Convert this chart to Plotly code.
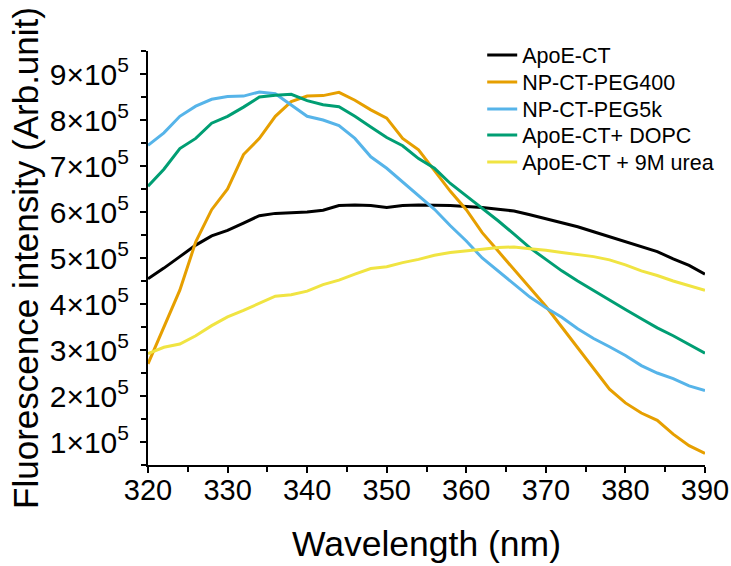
import plotly.graph_objects as go

# wavelength grid (nm)
wavelength = list(range(320, 391, 2))

# fluorescence intensity, in units of 1e5
apoe_ct = [4.55, 4.78, 5.03, 5.28, 5.48, 5.60, 5.76, 5.92, 5.97, 5.98, 6.00, 6.04,
           6.14, 6.15, 6.14, 6.10, 6.14, 6.15, 6.15, 6.14, 6.12, 6.10, 6.06, 6.02,
           5.94, 5.85, 5.77, 5.68, 5.57, 5.46, 5.36, 5.25, 5.14, 4.98, 4.84, 4.65]
np_peg400 = [2.70, 3.48, 4.30, 5.35, 6.05, 6.50, 7.25, 7.60, 8.08, 8.40, 8.52, 8.53,
             8.60, 8.43, 8.22, 8.04, 7.60, 7.35, 6.90, 6.45, 6.05, 5.55, 5.15, 4.75,
             4.35, 3.95, 3.50, 3.05, 2.62, 2.15, 1.85, 1.63, 1.47, 1.17, 0.92, 0.75]
np_peg5k = [7.45, 7.72, 8.08, 8.30, 8.45, 8.51, 8.52, 8.61, 8.57, 8.32, 8.08, 8.00,
            7.88, 7.60, 7.20, 6.95, 6.65, 6.36, 6.06, 5.70, 5.37, 5.00, 4.72, 4.45,
            4.15, 3.92, 3.71, 3.46, 3.25, 3.07, 2.88, 2.66, 2.50, 2.38, 2.22, 2.12]
apoe_dopc = [6.56, 6.93, 7.38, 7.60, 7.93, 8.08, 8.28, 8.50, 8.54, 8.56, 8.42, 8.33,
             8.29, 8.08, 7.85, 7.62, 7.44, 7.16, 6.95, 6.62, 6.35, 6.09, 5.81, 5.52,
             5.22, 4.97, 4.72, 4.50, 4.29, 4.08, 3.88, 3.68, 3.48, 3.31, 3.12, 2.93]
apoe_urea = [2.92, 3.06, 3.13, 3.31, 3.53, 3.72, 3.86, 4.02, 4.17, 4.20, 4.28, 4.42,
             4.52, 4.65, 4.77, 4.81, 4.90, 4.97, 5.06, 5.12, 5.15, 5.19, 5.23, 5.24,
             5.20, 5.17, 5.12, 5.07, 5.03, 4.96, 4.85, 4.72, 4.62, 4.50, 4.40, 4.30]

names = ["ApoE-CT", "NP-CT-PEG400", "NP-CT-PEG5k", "ApoE-CT+ DOPC", "ApoE-CT + 9M urea"]
series = [apoe_ct, np_peg400, np_peg5k, apoe_dopc, apoe_urea]
colors = ["#000000", "#E69F00", "#56B4E9", "#009E73", "#F0E442"]

ytick_vals = [1, 2, 3, 4, 5, 6, 7, 8, 9]
ytick_text = [f"{v}×10<sup>5</sup>" for v in ytick_vals]

FONT = "Arial, Liberation Sans, sans-serif"

fig = go.Figure()
legend_ids = ["legend", "legend2", "legend3", "legend4", "legend5"]
for name, vals, col, lg in zip(names, series, colors, legend_ids):
    fig.add_trace(go.Scatter(
        x=wavelength, y=[v * 1e5 for v in vals], mode="lines", name=name,
        line=dict(color=col, width=3), legend=lg, showlegend=True,
    ))

# one legend per entry so the row spacing matches the original
legend_y = [55, 82, 109, 135, 162]   # pixel rows of the entries
plot_top, plot_bottom = 51, 465
legends = {}
for lg, py in zip(legend_ids, legend_y):
    legends[lg] = dict(
        x=0.60, xanchor="left",
        y=(plot_bottom - py) / (plot_bottom - plot_top), yanchor="middle",
        bgcolor="rgba(0,0,0,0)", borderwidth=0,
        font=dict(family=FONT, size=21.5, color="black"),
        tracegroupgap=0,
    )

fig.update_layout(
    width=731, height=566,
    margin=dict(l=148, r=26, t=51, b=101),
    plot_bgcolor="white", paper_bgcolor="white",
    font=dict(family=FONT, color="black"),
    showlegend=True,
    **legends,
)

fig.update_xaxes(
    range=[320, 390], tickvals=[320, 330, 340, 350, 360, 370, 380, 390],
    showgrid=False, zeroline=False, automargin=False,
    showline=True, linecolor="black", linewidth=2,
    ticks="outside", ticklen=6, tickwidth=2, tickcolor="black",
    minor=dict(ticks="outside", dtick=5, ticklen=5, tickwidth=2, tickcolor="black"),
    tickfont=dict(family=FONT, size=29), ticklabelstandoff=-8,
    title=dict(text="Wavelength (nm)", font=dict(family=FONT, size=35.5), standoff=26),
)
fig.update_yaxes(
    range=[0.5e5, 9.5e5], tickvals=[v * 1e5 for v in ytick_vals], ticktext=ytick_text,
    showgrid=False, zeroline=False, automargin=False,
    showline=True, linecolor="black", linewidth=2,
    ticks="outside", ticklen=6, tickwidth=2, tickcolor="black",
    minor=dict(ticks="outside", tick0=0, dtick=0.5e5, ticklen=5, tickwidth=2, tickcolor="black"),
    tickfont=dict(family=FONT, size=30), ticklabelstandoff=5,
    title=dict(text="Fluorescence intensity (Arb.unit)", font=dict(family=FONT, size=35), standoff=0),
)

# drop the browser's default body margin so the figure sits at the page corner
fig.write_html("out.html", config={"displayModeBar": False},
               post_script="document.body.style.margin='0px';")
